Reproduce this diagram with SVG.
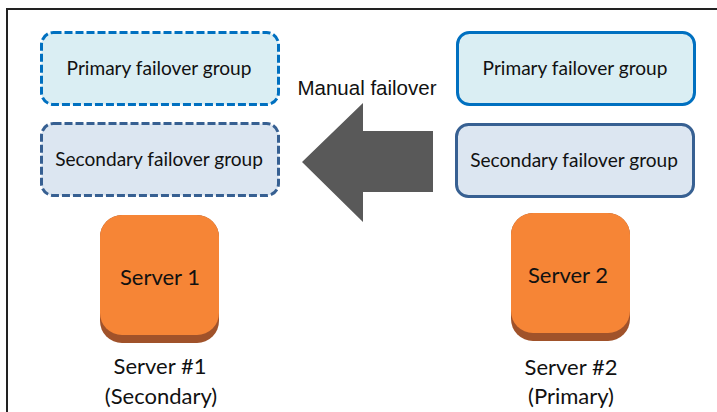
<svg xmlns="http://www.w3.org/2000/svg" width="717" height="412" viewBox="0 0 717 412">
<style>
text{font-family:"Lato","Carlito","Open Sans",sans-serif;fill:#111;text-anchor:middle}
.g{font-size:19.100px}
.s{font-size:22px}
.l{font-family:"Liberation Sans",sans-serif;font-size:20.500px}
.p{fill:#daeef3;stroke:#0070c0;stroke-width:3}
.q{fill:#dce6f1;stroke:#376092;stroke-width:3}
.d{stroke-dasharray:8 3}
.base{fill:#a0522a}
.face{fill:#f68536}
</style>
<rect width="717" height="412" fill="#fff"/>
<path d="M7 412V9H717" fill="none" stroke="#222" stroke-width="2"/>
<g id="connectors">
<path d="M302 162L363 103V131H433V192H363V222Z" fill="#595959"/>
<text x="367" y="95" class="l">Manual failover</text>
</g>
<g id="primary-1"><rect x="41.500" y="32.500" width="237" height="72" rx="12" class="p d"/><text x="159" y="75" class="g">Primary failover group</text></g>
<g id="secondary-1"><rect x="41.500" y="123.500" width="237" height="72" rx="12" class="q d"/><text x="159" y="166" class="g">Secondary failover group</text></g>
<g id="primary-2"><rect x="457.500" y="32.500" width="237" height="72" rx="12" class="p"/><text x="575" y="75" class="g">Primary failover group</text></g>
<g id="secondary-2"><rect x="456.500" y="124.500" width="237" height="72" rx="12" class="q"/><text x="574" y="167" class="g">Secondary failover group</text></g>
<g id="server-1"><rect x="100" y="215" width="119" height="128" rx="22" class="base"/><rect x="100" y="215" width="119" height="120" rx="22" class="face"/><text x="160" y="285" class="s">Server 1</text></g>
<g id="server-2"><rect x="511" y="213" width="119" height="128" rx="22" class="base"/><rect x="511" y="213" width="119" height="120" rx="22" class="face"/><text x="568" y="283" class="s">Server 2</text></g>
<g id="label-1"><text x="160" y="374" class="s">Server #1</text><text x="161" y="404" class="s">(Secondary)</text></g>
<g id="label-2"><text x="571" y="375" class="s">Server #2</text><text x="571" y="404" class="s">(Primary)</text></g>
</svg>
